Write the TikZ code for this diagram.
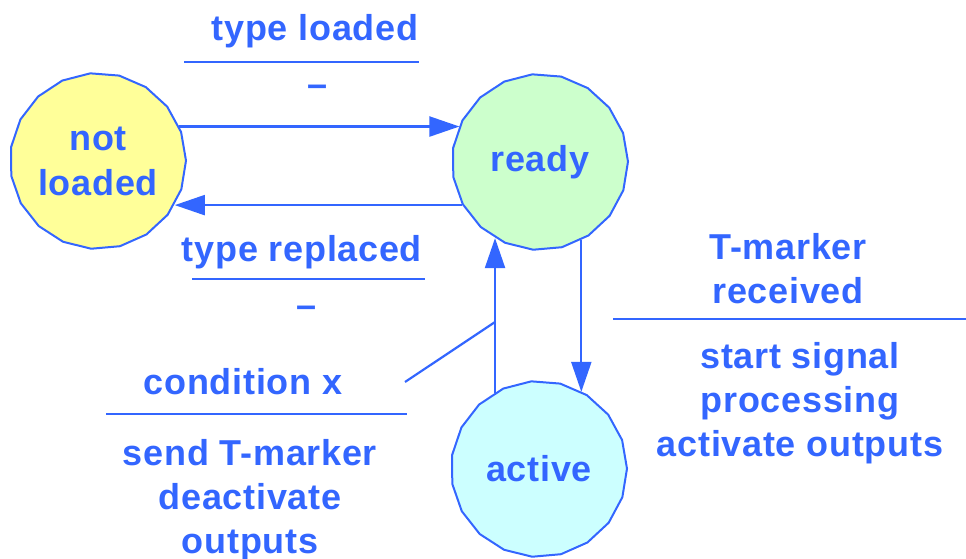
\documentclass[tikz,border=0pt]{standalone}
\usepackage{fontspec}
\setmainfont{Liberation Sans}[LetterSpace=2.0]
\usetikzlibrary{shapes.geometric,arrows.meta,calc}
\definecolor{ink}{HTML}{3366FF}
\definecolor{fyel}{HTML}{FFFF99}
\definecolor{fgrn}{HTML}{CCFFCC}
\definecolor{fcyn}{HTML}{CCFFFF}
\begin{document}
\begin{tikzpicture}[x=1pt,y=-1pt,
  state/.style={regular polygon, regular polygon sides=19, shape border rotate=5,
    minimum size=176pt, inner sep=0pt, draw=ink, line width=2pt, text=ink,
    font=\bfseries\fontsize{36}{45}\selectfont, align=center},
  lbl/.style={text=ink, font=\bfseries\fontsize{36}{44}\selectfont, align=center,
    inner sep=0pt, anchor=base},
  arr/.style={draw=ink, line width=2.2pt, -{Triangle[length=30pt,width=20pt]}},
  rulel/.style={draw=ink, line width=2.2pt}]
\useasboundingbox (0,0) rectangle (966,559);
% states
\node[state, fill=fyel] (nl) at (98,161) {not\\loaded};
\node[state, fill=fgrn] (rd) at (540,162) {ready};
\node[state, fill=fcyn] (ac) at (539,469) {active};
% transitions
\draw[arr] (nl.23) -- (nl.23 -| rd.156);
\draw[arr] (rd.209) -- (rd.209 -| nl.-29);
\draw[arr] (ac.120) -- (ac.120 |- rd.240);
\draw[arr] (rd.298) -- (rd.298 |- ac.61);
% condition pointer
\coordinate (cj) at (ac.120 |- 0,322);
\coordinate (cs) at (405,382);
\draw[rulel] (cs) -- (cj);
% labels (base = baseline of last line)
\node[lbl] (tl) at (315,41) {type loaded};
\draw[rulel] (184,62) -- (419,62);
\node[lbl] (tld) at (318,97) {--};
\node[lbl] (tr) at (302,261) {type replaced};
\draw[rulel] (192,279) -- (425,279);
\node[lbl] (trd) at (307,317) {--};
\node[lbl] (tm) at (788,303) {T-marker\\received};
\draw[rulel] (613,319) -- (966,319);
\node[lbl] (ss) at (800,456) {start signal\\processing\\activate outputs};
\node[lbl] (cx) at (243,394) {condition x};
\draw[rulel] (106,414) -- (407,414);
\node[lbl] (st) at (250,553) {send T-marker\\deactivate\\outputs};
\end{tikzpicture}
\end{document}
